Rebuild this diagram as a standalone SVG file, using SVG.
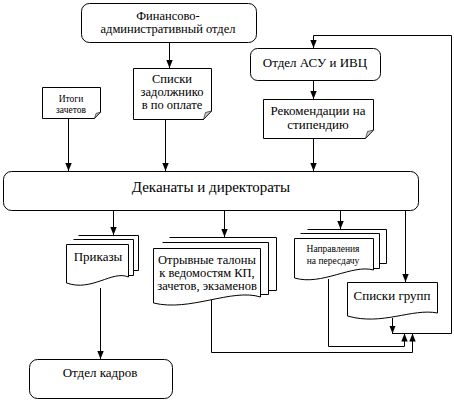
<svg xmlns="http://www.w3.org/2000/svg" width="454" height="402" viewBox="0 0 454 402" font-family="Liberation Serif, Tinos, DejaVu Serif, serif">
<style>
.b{fill:#fff;stroke:#000;stroke-width:1}
.f{fill:#c8c8c8;stroke:#000;stroke-width:0.6}
.c{fill:none;stroke:#000;stroke-width:1}
text{fill:#000;text-anchor:middle}
.t13{font-size:13px}
.t12{font-size:12.5px}
.t14{font-size:15px}
.t9{font-size:9.5px}
</style>
<defs>
<marker id="a" viewBox="0 0 8 8" refX="8" refY="4" markerWidth="8" markerHeight="8" markerUnits="userSpaceOnUse" orient="auto">
<path d="M0,0.8 L8,4 L0,7.2 Z" fill="#000"/>
</marker>
</defs>
<g id="connectors">
<path class="c" d="M169.5,42 V68" marker-end="url(#a)"/>
<path class="c" d="M68.5,118 V171" marker-end="url(#a)"/>
<path class="c" d="M165.5,119 V171" marker-end="url(#a)"/>
<path class="c" d="M313.5,80 V99" marker-end="url(#a)"/>
<path class="c" d="M313.5,138 V171" marker-end="url(#a)"/>
<path class="c" d="M113.5,210 V235" marker-end="url(#a)"/>
<path class="c" d="M224.5,210 V237" marker-end="url(#a)"/>
<path class="c" d="M340.5,210 V229" marker-end="url(#a)"/>
<path class="c" d="M405.5,210 V282" marker-end="url(#a)"/>
<path class="c" d="M100.5,288 V359" marker-end="url(#a)"/>
<path class="c" d="M392.5,318 V333.5" marker-end="url(#a)"/>
<path class="c" d="M392,333.5 H451.5 V35.5 H313.5 V48" marker-end="url(#a)"/>
<path class="c" d="M328.5,279 V346.5 H404.5 V333.5" marker-end="url(#a)"/>
<path class="c" d="M211.5,300 V352.5 H412.5 V333.5" marker-end="url(#a)"/>
</g>
<g id="fin">
<rect class="b" x="81.5" y="3.5" width="175" height="39" rx="8"/>
<text class="t12" x="168" y="20">Финансово-</text>
<text class="t12" x="168" y="33">административный отдел</text>
</g>
<g id="spiski-zadolzh">
<path class="b" d="M133.5,68.5 H211.5 V111 L203.5,119.5 H133.5 Z"/>
<path class="f" d="M211.5,111 L203.5,119.5 L205.5,112.5 Z"/>
<text class="t12" x="172" y="83">Списки</text>
<text class="t12" x="172" y="96">задолжнико</text>
<text class="t12" x="172" y="109">в по оплате</text>
</g>
<g id="itogi">
<path class="b" d="M42.5,87.5 H100.5 V112 L94.5,118.5 H42.5 Z"/>
<path class="f" d="M100.5,112 L94.5,118.5 L96,113.5 Z"/>
<text class="t9" x="71" y="102">Итоги</text>
<text class="t9" x="71" y="113">зачетов</text>
</g>
<g id="asu">
<rect class="b" x="250.5" y="48.5" width="130" height="32" rx="7"/>
<text class="t13" x="315" y="67">Отдел АСУ и ИВЦ</text>
</g>
<g id="rekom">
<path class="b" d="M263.5,99.5 H373.5 V130 L365.5,138.5 H263.5 Z"/>
<path class="f" d="M373.5,130 L365.5,138.5 L367.5,131.5 Z"/>
<text class="t13" x="318" y="115">Рекомендации на</text>
<text class="t13" x="318" y="129">стипендию</text>
</g>
<g id="dekanaty">
<rect class="b" x="3.5" y="171.5" width="415" height="39" rx="8"/>
<text class="t14" x="211" y="192">Деканаты и директораты</text>
</g>
<g id="prikazy">
<path class="b" d="M78.5,235.5 H138.5 V270.5 H133"/>
<path class="b" d="M73.5,239.5 H133.5 V275.5 H128"/>
<path class="b" d="M66.5,244.5 H128.5 V277 C112,270 92,292 66.5,283 Z"/>
<text class="t13" x="98" y="261">Приказы</text>
</g>
<g id="otryvnye">
<path class="b" d="M169.5,237.5 H276.5 V290.5 H268"/>
<path class="b" d="M162.5,242.5 H268.5 V294.5 H260"/>
<path class="b" d="M153.5,248.5 H260.5 V297 C232,288 190,312 153.5,303 Z"/>
<text class="t12" x="207" y="264">Отрывные талоны</text>
<text class="t12" x="207" y="277">к ведомостям КП,</text>
<text class="t12" x="207" y="290">зачетов, экзаменов</text>
</g>
<g id="napravleniya">
<path class="b" d="M307.5,229.5 H386.5 V263.5 H379"/>
<path class="b" d="M300.5,233.5 H379.5 V268.5 H373"/>
<path class="b" d="M294.5,238.5 H373.5 V270 C352,264 322,286 294.5,278 Z"/>
<text class="t9" x="333" y="252">Направления</text>
<text class="t9" x="333" y="264">на пересдачу</text>
</g>
<g id="spiski-grupp">
<path class="b" d="M347.5,282.5 H437.5 V313 C412,308 382,326 347.5,316 Z"/>
<text class="t13" x="392" y="300">Списки групп</text>
</g>
<g id="kadry">
<rect class="b" x="29.5" y="359.5" width="143" height="39" rx="8"/>
<text class="t13" x="100" y="377">Отдел кадров</text>
</g>
</svg>
